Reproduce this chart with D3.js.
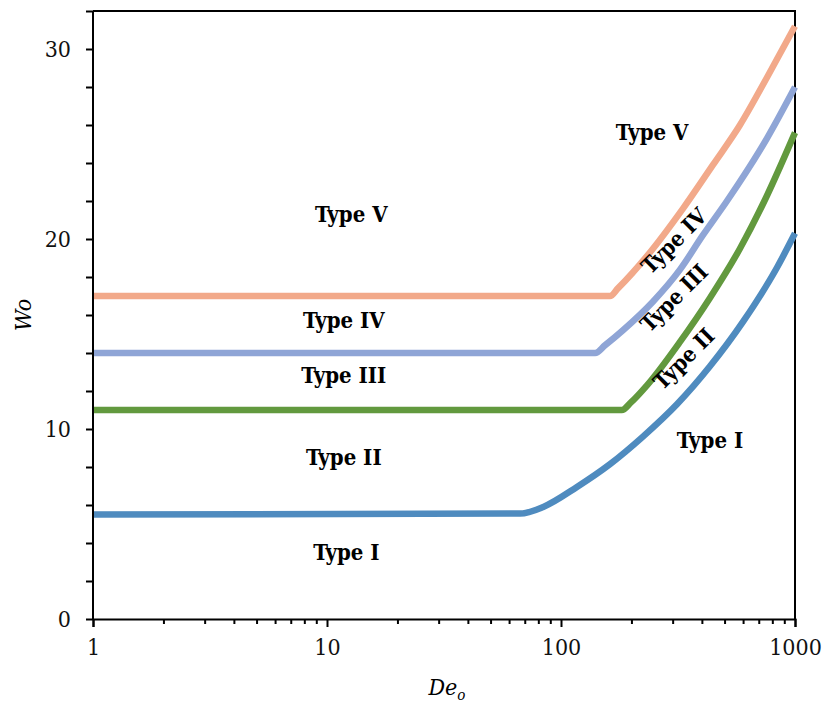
<!DOCTYPE html>
<html>
<head>
<meta charset="utf-8">
<script src="https://cdn.jsdelivr.net/npm/d3@7"></script>
<style>
  body { margin: 0; background: #fff; }
  text { font-family: "DejaVu Serif Condensed", "DejaVu Serif", serif; font-stretch: condensed; }
</style>
</head>
<body>
<div id="content"></div>
<script>
// boundary curves between flow types (De, Wo)
var typeIBound   = [[1, 5.5], [67, 5.55], [84, 5.9], [117, 6.95], [162, 8.15], [224, 9.6], [313, 11.3], [433, 13.3], [600, 15.65], [838, 18.5], [1000, 20.3]];
var typeIIBound  = [[1, 11], [182, 11], [199, 11.4], [233, 12.3], [323, 14.6], [433, 16.9], [582, 19.5], [740, 22.0], [1000, 25.6]];
var typeIIIBound = [[1, 14], [140, 14], [154, 14.4], [184, 15.2], [247, 16.7], [323, 18.4], [404, 20.2], [512, 22.0], [759, 25.3], [1000, 28.0]];
var typeIVBound  = [[1, 17], [162, 17], [175, 17.4], [233, 19.1], [332, 21.6], [446, 23.9], [582, 26.0], [759, 28.5], [1000, 31.2]];

var seriesColors = ['#4f8bbf', '#62993e', '#8fa5d6', '#f2a98a'];

var xMajor = [1, 10, 100, 1000];
var yMajor = [0, 10, 20, 30];

// region labels: text, De, Wo, rotation
var labelText  = ['Type V', 'Type IV', 'Type III', 'Type II', 'Type I', 'Type V', 'Type I', 'Type IV', 'Type III', 'Type II'];
var labelDe    = [12.7, 11.8, 11.8, 11.8, 12.1, 245, 433, 304, 304, 335];
var labelWo    = [20.9, 15.3, 12.4, 8.1, 3.1, 25.2, 9.0, 19.9, 16.9, 13.7];
var labelAngle = [0, 0, 0, 0, 0, 0, 0, -45, -45, -45];

var width = 823, height = 703,
    margin = {left: 93, top: 11, right: 28, bottom: 84};

var x = d3.scaleLog().domain([1, 1000]).range([margin.left, width - margin.right]),
    y = d3.scaleLinear().domain([0, 32]).range([height - margin.bottom, margin.top]);

var svg = d3.select('#content').append('svg')
    .attr('width', width)
    .attr('height', height);

// top + right frame
svg.append('path')
    .attr('d', 'M' + x(1) + ',' + y(32) + 'H' + x(1000) + 'V' + y(0))
    .attr('fill', 'none')
    .attr('stroke', '#000')
    .attr('stroke-width', 2);

var line = d3.line()
    .curve(d3.curveMonotoneX)
    .x(function(d){ return x(d[0]); })
    .y(function(d){ return y(d[1]); });

svg.selectAll('path.bound')
    .data([typeIBound, typeIIBound, typeIIIBound, typeIVBound])
    .enter()
    .append('path')
    .attr('class', 'bound')
    .attr('d', line)
    .attr('fill', 'none')
    .attr('stroke', function(d, i){ return seriesColors[i]; })
    .attr('stroke-width', 6.5)
    .attr('stroke-linejoin', 'round')
    .attr('stroke-linecap', 'butt');

// y axis: minor every 2, labels on the tens
var yAxis = d3.axisLeft(y)
    .tickValues(d3.range(0, 33, 2))
    .tickSize(7)
    .tickPadding(15)
    .tickFormat(function(d){ return yMajor.indexOf(d) >= 0 ? d : ''; });

var gy = svg.append('g')
    .attr('transform', 'translate(' + x(1) + ',0)')
    .call(yAxis);

// x axis minor ticks
var xMinor = [];
for (var k = 1; k < 1000; k *= 10)
    for (var m = 2; m <= 9; m++) xMinor.push(k * m);

svg.append('g')
    .attr('transform', 'translate(0,' + y(0) + ')')
    .call(d3.axisBottom(x).tickValues(xMinor).tickSize(5).tickFormat(''))
    .select('.domain').remove();

var gx = svg.append('g')
    .attr('transform', 'translate(0,' + y(0) + ')')
    .call(d3.axisBottom(x).tickValues(xMajor).tickSize(8).tickPadding(12).tickFormat(d3.format('d')));

svg.selectAll('.domain').attr('stroke-width', 2).attr('stroke', '#000');
svg.selectAll('.tick line').attr('stroke-width', 2).attr('stroke', '#000');
svg.selectAll('.tick text')
    .attr('font-family', '"DejaVu Serif Condensed", "DejaVu Serif", serif')
    .attr('font-size', 23)
    .attr('fill', '#111');
gx.selectAll('.tick text').attr('dy', '0.7em');
gy.select('.domain').attr('d', 'M0,' + y(32) + 'V' + y(0));

// region labels
svg.selectAll('text.lab')
    .data(labelText)
    .enter()
    .append('text')
    .attr('class', 'lab')
    .attr('transform', function(d, i){
        return 'translate(' + x(labelDe[i]) + ',' + y(labelWo[i]) + ') rotate(' + labelAngle[i] + ')';
    })
    .attr('dy', function(d, i){ return labelAngle[i] ? '0.35em' : 0; })
    .attr('text-anchor', 'middle')
    .attr('font-size', 22)
    .attr('font-weight', 'bold')
    .attr('fill', '#000')
    .text(function(d){ return d; });

// axis titles
svg.append('text')
    .attr('transform', 'translate(31,' + ((y(0) + y(32)) / 2) + ') rotate(-90)')
    .attr('text-anchor', 'middle')
    .attr('font-size', 23)
    .attr('font-style', 'italic')
    .text('Wo');

var xt = svg.append('text')
    .attr('x', (x(1) + x(1000)) / 2 + 3)
    .attr('y', 695)
    .attr('text-anchor', 'middle')
    .attr('font-size', 23)
    .attr('font-style', 'italic');
xt.append('tspan').text('De');
xt.append('tspan').attr('font-size', 15).attr('dy', 5).text('o');
</script>
</body>
</html>
